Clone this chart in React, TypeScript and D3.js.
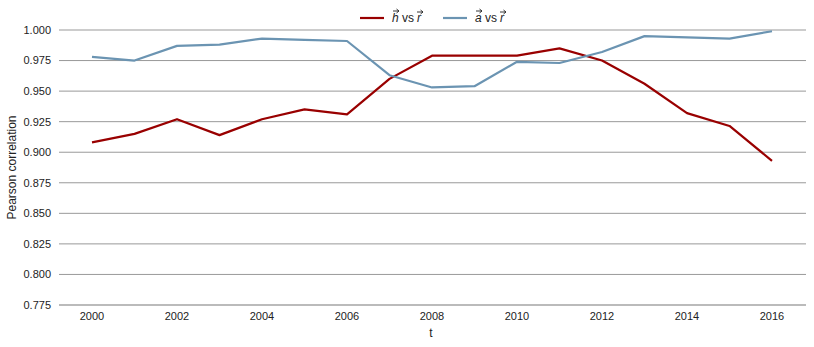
import React from "react"
import * as d3 from "d3"

const years = [2000, 2001, 2002, 2003, 2004, 2005, 2006, 2007, 2008, 2009, 2010, 2011, 2012, 2013, 2014, 2015, 2016]
const hVsR = [0.908, 0.915, 0.927, 0.914, 0.927, 0.935, 0.931, 0.96, 0.979, 0.979, 0.979, 0.985, 0.975, 0.956, 0.932, 0.9215, 0.893]
const aVsR = [0.978, 0.975, 0.987, 0.988, 0.993, 0.992, 0.991, 0.963, 0.953, 0.954, 0.974, 0.973, 0.982, 0.995, 0.994, 0.993, 0.999]
const yTicks = [0.775, 0.8, 0.825, 0.85, 0.875, 0.9, 0.925, 0.95, 0.975, 1.0]
const xTicks = [2000, 2002, 2004, 2006, 2008, 2010, 2012, 2014, 2016]

const W = 814
const H = 347
const left = 59
const right = 806
const font = "Liberation Sans, Arial, sans-serif"

// small vector arrow drawn over a letter
const Vec = ({ x, y }: { x: number; y: number }) => (
  <path
    d={`M${x},${y} L${x + 6},${y} M${x + 3.5},${y - 2} L${x + 6},${y} L${x + 3.5},${y + 2}`}
    fill="none"
    stroke="#222"
    strokeWidth={0.9}
  />
)

export default function App() {
  const x = d3.scaleLinear().domain([2000, 2016]).range([92, 772])
  const y = d3.scaleLinear().domain([0.775, 1.0]).range([305, 30])

  const line = (vals: number[]) =>
    d3.line<number>().x((_, i) => x(years[i])).y((d) => y(d))(vals) || ""

  const series = [
    { name: "h", vals: hVsR, color: "#990000" },
    { name: "a", vals: aVsR, color: "#6b94b2" },
  ]

  return (
    <svg width={W} height={H} style={{ position: "absolute", left: 0, top: 0 }} fontFamily={font}>
      {yTicks.map((t, i) => (
        <g key={t}>
          <line
            x1={left}
            x2={right}
            y1={y(t)}
            y2={y(t)}
            stroke={i === 0 ? "#bbbbbb" : "#999999"}
            strokeWidth={i === 0 ? 2 : 1}
          />
          <text x={51} y={y(t)} dy="0.35em" textAnchor="end" fontSize={11} fill="#222">
            {d3.format(".3f")(t)}
          </text>
        </g>
      ))}
      {xTicks.map((t) => (
        <text key={t} x={x(t)} y={320} textAnchor="middle" fontSize={11} fill="#222">
          {t}
        </text>
      ))}
      <text x={431} y={337} textAnchor="middle" fontSize={12} fill="#222">t</text>
      <text
        transform={`translate(16,${y(0.8875)}) rotate(-90)`}
        textAnchor="middle"
        fontSize={12}
        fill="#222"
      >
        Pearson correlation
      </text>

      {series.map((s) => (
        <path key={s.name} d={line(s.vals)} fill="none" stroke={s.color} strokeWidth={2.2} strokeLinejoin="round" />
      ))}

      {/* legend */}
      {series.map((s, i) => {
        const lx = 360 + i * 83
        const tx = lx + 32
        return (
          <g key={s.name}>
            <line x1={lx} x2={lx + 24} y1={18} y2={18} stroke={s.color} strokeWidth={2.2} />
            <text x={tx} y={22} fontSize={12} fill="#222" fontStyle="italic">{s.name}</text>
            <Vec x={tx + 1} y={11} />
            <text x={tx + 10} y={22} fontSize={12} fill="#222">vs</text>
            <text x={tx + 25} y={22} fontSize={12} fill="#222" fontStyle="italic">r</text>
            <Vec x={tx + 25} y={12} />
          </g>
        )
      })}
    </svg>
  )
}
